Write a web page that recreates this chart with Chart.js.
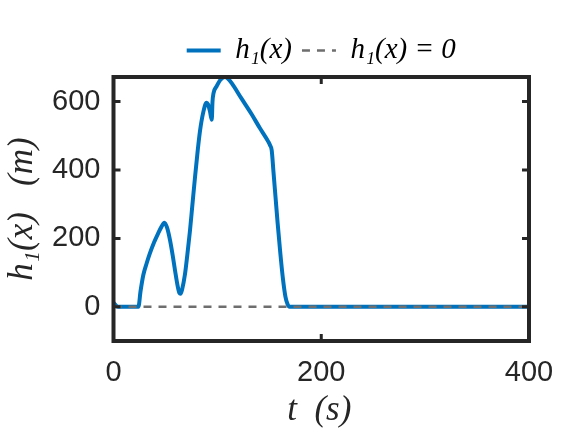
<!DOCTYPE html>
<html><head><meta charset="utf-8">
<script src="https://cdn.jsdelivr.net/npm/chart.js@4/dist/chart.umd.min.js"></script>
<style>html,body{margin:0;padding:0;background:#fff}canvas{display:block}</style>
</head><body>
<canvas id="c" width="584" height="438"></canvas>
<script>
// ---- data ----
const tVals = [0, 2, 4.5, 24, 26, 28.7, 32, 35, 39, 43, 46, 49, 51.5, 54.4, 57, 59.2, 61.5, 63.5, 64.5, 66, 68.8, 71, 73.6, 76, 78.5, 81, 83.3, 86.5, 89.5, 91, 92.9, 94.6, 95.3, 96.3, 99.3, 103, 107.3, 110, 113.8, 123, 133, 141, 149, 150.8, 152.3, 154, 156, 158, 160.5, 163, 165.5, 167.5, 169.5, 172, 400];
const hVals = [12, 5, 0, 0, 45, 93, 128, 156, 188, 215, 233, 246, 232, 195, 150, 107, 65, 40, 38, 50, 95, 150, 222, 300, 380, 455, 515, 570, 597, 592, 571, 547, 600, 625, 645, 664, 672, 668, 654, 610, 563, 522, 483, 472, 458, 395, 320, 245, 160, 85, 30, 8, 0, 0, 0];
const zeroT = [0, 400];
const zeroH = [0, 0];
const xTicks = [0, 200, 400];
const yTicks = [0, 200, 400, 600];
const xRange = [0, 400];
const yRange = [-100, 672];
const seriesNames = ['h\u2081(x)', 'h\u2081(x) = 0'];
const xTitle = 't  (s)';
const yTitle = 'h\u2081(x)   (m)';

const frameColor = '#262626';
const serif = '"Liberation Serif", "DejaVu Serif", serif';

const framePlugin = {
  id: 'frameAndTitles',
  beforeInit(chart) {
    const lg = chart.legend;
    if (lg) {
      const f = lg.fit;
      lg.fit = function () { f.call(this); this.height = 51; };
    }
  },
  afterDraw(chart) {
    const {ctx, chartArea: a, scales: {x, y}} = chart;
    ctx.save();
    ctx.strokeStyle = frameColor;
    ctx.lineWidth = 3;
    const tl = 7;
    ctx.beginPath();
    yTicks.forEach(v => {
      const py = y.getPixelForValue(v);
      ctx.moveTo(a.left, py); ctx.lineTo(a.left + tl, py);
      ctx.moveTo(a.right, py); ctx.lineTo(a.right - tl, py);
    });
    xTicks.forEach(v => {
      const px = x.getPixelForValue(v);
      ctx.moveTo(px, a.bottom); ctx.lineTo(px, a.bottom - tl);
      ctx.moveTo(px, a.top); ctx.lineTo(px, a.top + tl);
    });
    ctx.stroke();
    ctx.lineWidth = 4;
    ctx.strokeRect(a.left, a.top, a.right - a.left, a.bottom - a.top);
    ctx.fillStyle = frameColor;
    ctx.font = 'italic 35px ' + serif;
    ctx.textAlign = 'center';
    ctx.textBaseline = 'middle';
    ctx.fillText(xTitle, (a.left + a.right) / 2 - 2, a.bottom + 70);
    ctx.translate(23, (a.top + a.bottom) / 2);
    ctx.rotate(-Math.PI / 2);
    ctx.fillText(yTitle, 0, 0);
    ctx.restore();
  }
};

new Chart(document.getElementById('c'), {
  type: 'line',
  data: {
    datasets: [
      {
        label: seriesNames[0],
        data: tVals.map((t, i) => ({x: t, y: hVals[i]})),
        borderColor: '#0072BD',
        backgroundColor: '#0072BD',
        borderWidth: 4,
        pointRadius: 0,
        cubicInterpolationMode: 'monotone',
        order: 2
      },
      {
        label: seriesNames[1],
        data: zeroT.map((t, i) => ({x: t, y: zeroH[i]})),
        borderColor: '#6e6e6e',
        backgroundColor: '#6e6e6e',
        borderWidth: 2.5,
        borderDash: [8, 7],
        pointRadius: 0,
        order: 1
      }
    ]
  },
  options: {
    responsive: false,
    animation: false,
    devicePixelRatio: 1,
    layout: {padding: {left: 0, right: 55, top: 26, bottom: 0}},
    plugins: {
      legend: {
        position: 'top',
        fullSize: false,
        align: 'center',
        labels: {
          usePointStyle: true,
          pointStyle: 'line',
          pointStyleWidth: 34,
          padding: 10,
          color: '#000',
          font: {family: serif, style: 'italic', size: 29},
          sort: (a, b) => a.datasetIndex - b.datasetIndex,
          generateLabels: chart => {
            const items = Chart.defaults.plugins.legend.labels.generateLabels(chart);
            items.forEach(it => {
              const ds = chart.data.datasets[it.datasetIndex];
              it.lineWidth = ds.borderWidth;
              it.lineDash = ds.borderDash || [];
              it.strokeStyle = ds.borderColor;
              it.fillStyle = ds.borderColor;
              it.pointStyle = 'line';
            });
            return items;
          }
        }
      },
      tooltip: {enabled: false}
    },
    scales: {
      x: {
        type: 'linear',
        min: xRange[0], max: xRange[1],
        grid: {display: false, drawTicks: false},
        border: {display: false},
        afterBuildTicks: s => { s.ticks = xTicks.map(v => ({value: v})); },
        afterFit: s => { s.height = 97; },
        ticks: {color: frameColor, padding: 15, maxRotation: 0, font: {family: '"Liberation Sans", Arial, sans-serif', size: 29}}
      },
      y: {
        type: 'linear',
        min: yRange[0], max: yRange[1],
        grid: {display: false, drawTicks: false},
        border: {display: false},
        afterBuildTicks: s => { s.ticks = yTicks.map(v => ({value: v})); },
        afterFit: s => { s.width = 113.5; },
        ticks: {color: frameColor, padding: 13, font: {family: '"Liberation Sans", Arial, sans-serif', size: 29}}
      }
    }
  },
  plugins: [framePlugin]
});
</script>
</body></html>
